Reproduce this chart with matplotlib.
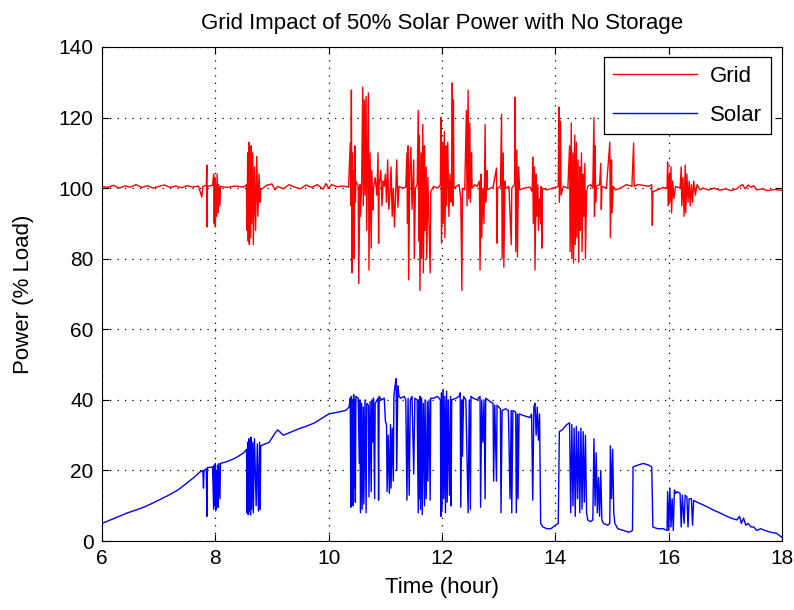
import matplotlib
matplotlib.use("Agg")
from matplotlib import pyplot as plt

plt.rcParams["font.family"] = ["Liberation Sans", "DejaVu Sans"]

# time (hour) and solar power (% load)
solar_t = [
    6.00, 6.15, 6.30, 6.45, 6.60, 6.75, 6.90, 7.05, 7.20, 7.35, 7.50, 7.62, 7.72, 7.78, 7.79, 7.80,
    7.84, 7.85, 7.86, 7.95, 7.97, 7.98, 7.99, 8.00, 8.01, 8.02, 8.03, 8.04, 8.05, 8.06, 8.08, 8.09,
    8.20, 8.35, 8.50, 8.55, 8.56, 8.57, 8.58, 8.59, 8.60, 8.61, 8.62, 8.63, 8.64, 8.66, 8.67, 8.69,
    8.72, 8.74, 8.76, 8.78, 8.79, 8.80, 8.95, 9.05, 9.10, 9.20, 9.35, 9.50, 9.60, 9.75, 9.90, 10.00,
    10.15, 10.30, 10.36,
    10.38, 10.39, 10.40, 10.41, 10.42, 10.43, 10.44, 10.45, 10.46, 10.47, 10.48, 10.52, 10.54, 10.55,
    10.56, 10.58, 10.59, 10.61, 10.62, 10.64, 10.66, 10.67, 10.70, 10.71, 10.73, 10.75, 10.76, 10.78,
    10.79, 10.81, 10.82, 10.87, 10.88, 10.89, 10.93, 10.98, 11.00, 11.02, 11.03, 11.05, 11.07, 11.09,
    11.10, 11.12, 11.14, 11.15, 11.17, 11.19, 11.20, 11.22, 11.24, 11.27, 11.33, 11.36, 11.38, 11.40,
    11.42, 11.44, 11.47, 11.50, 11.52, 11.56, 11.58, 11.59, 11.60, 11.61, 11.62, 11.64, 11.65, 11.67,
    11.69, 11.70, 11.72, 11.74, 11.75, 11.77, 11.79, 11.80, 11.86, 11.92, 11.97, 11.98, 11.99, 12.00,
    12.02, 12.03, 12.05, 12.06, 12.08, 12.09, 12.11, 12.13, 12.15, 12.16, 12.17, 12.25, 12.30, 12.32,
    12.33, 12.35, 12.36, 12.38, 12.42, 12.46, 12.48, 12.50, 12.51, 12.55, 12.62, 12.67, 12.68, 12.70,
    12.72, 12.74, 12.76, 12.77, 12.85, 12.90, 12.91, 12.93, 12.96, 12.97, 13.03, 13.04, 13.06, 13.12,
    13.17, 13.20, 13.22, 13.23, 13.25, 13.30, 13.31, 13.33, 13.34, 13.36, 13.45, 13.55, 13.58, 13.60,
    13.62, 13.64, 13.66, 13.68, 13.70, 13.72, 13.74, 13.78, 13.85, 13.92, 14.00, 14.05, 14.07, 14.12,
    14.20, 14.25, 14.27, 14.29, 14.31, 14.33, 14.35, 14.37, 14.39, 14.41, 14.43, 14.45, 14.47, 14.49,
    14.51, 14.53, 14.55, 14.57, 14.62, 14.66, 14.68, 14.70, 14.72, 14.74, 14.76, 14.78, 14.80, 14.82,
    14.85, 14.92, 14.96, 14.97, 14.99, 15.01, 15.03, 15.05, 15.10, 15.20, 15.30, 15.36, 15.37, 15.45,
    15.55, 15.65, 15.70, 15.72, 15.80, 15.90, 15.97, 15.98, 16.00, 16.02, 16.04, 16.06, 16.08, 16.10,
    16.12, 16.15, 16.20, 16.22, 16.24, 16.27, 16.29, 16.32, 16.34, 16.36, 16.40, 16.42, 16.44, 16.50,
    16.60, 16.70, 16.80, 16.90, 17.00, 17.10, 17.20, 17.25, 17.28, 17.32, 17.36, 17.40, 17.45, 17.50,
    17.55, 17.62, 17.70, 17.80, 17.90, 18.00,
]
solar = [
    5.0, 6.0, 7.0, 8.0, 8.8, 9.7, 10.8, 12.0, 13.2, 14.6, 16.5, 18.0, 19.5, 20.0, 15.0, 20.0,
    20.5, 7.0, 20.8, 21.0, 9.0, 21.5, 10.0, 22.0, 8.8, 20.0, 10.5, 21.5, 9.5, 22.0, 12.0, 22.0,
    22.5, 23.5, 25.0, 26.0, 8.0, 28.0, 7.5, 29.0, 8.5, 27.0, 7.4, 29.5, 9.0, 28.0, 8.0, 29.0,
    10.0, 27.5, 8.5, 28.0, 9.0, 27.0, 28.0, 30.5, 31.5, 30.0, 31.0, 32.0, 32.5, 33.5, 35.0, 36.0,
    36.5, 37.0, 38.0,
    40.5, 9.6, 41.0, 12.0, 40.0, 10.0, 41.5, 15.0, 40.0, 11.0, 41.0, 40.5, 22.0, 40.0,
    8.0, 39.0, 9.0, 38.0, 10.5, 40.0, 8.0, 39.0, 38.5, 12.5, 39.5, 14.0, 40.0, 28.0,
    40.5, 12.0, 39.0, 40.5, 11.6, 41.0, 40.0, 40.5, 34.0, 33.0, 14.0, 30.0, 13.5, 33.0,
    15.0, 32.0, 17.0, 41.0, 44.0, 46.0, 20.0, 44.0, 41.0, 40.5, 41.0, 40.0, 11.6, 40.5,
    13.0, 40.0, 41.0, 19.0, 40.5, 40.0, 8.0, 40.0, 12.0, 41.0, 9.0, 40.5, 7.5, 39.0,
    10.0, 40.0, 12.0, 39.5, 17.0, 40.0, 11.6, 40.5, 40.5, 41.0, 40.0, 7.0, 42.0, 9.0,
    43.0, 12.0, 41.0, 8.0, 42.5, 11.0, 40.0, 13.0, 41.0, 10.0, 40.0, 40.5, 41.0, 42.0,
    9.6, 40.0, 24.0, 41.0, 40.0, 8.0, 40.0, 9.0, 41.0, 40.5, 40.0, 41.0, 9.6, 40.0,
    28.0, 40.0, 12.0, 40.5, 39.5, 39.0, 17.0, 38.5, 17.0, 38.5, 37.5, 8.0, 37.0, 37.5,
    37.0, 12.0, 37.0, 8.0, 37.0, 36.5, 8.0, 36.0, 12.0, 36.0, 35.5, 35.0, 36.0, 11.6,
    38.0, 39.0, 30.0, 38.0, 28.6, 36.0, 5.0, 4.0, 3.5, 3.5, 4.5, 5.0, 31.0, 31.5,
    33.0, 33.5, 8.0, 33.0, 10.0, 32.0, 7.0, 32.5, 12.0, 31.0, 8.0, 32.0, 9.0, 31.0,
    11.0, 30.0, 8.0, 6.0, 5.5, 6.0, 29.0, 10.0, 25.0, 8.0, 18.0, 7.0, 20.0, 6.0,
    5.0, 4.5, 5.0, 27.0, 12.0, 26.0, 8.0, 5.0, 3.5, 3.0, 2.5, 3.0, 21.0, 21.5,
    22.0, 21.5, 21.0, 4.0, 3.5, 3.5, 3.0, 14.0, 3.0, 15.0, 4.0, 12.0, 3.0, 14.5,
    13.5, 14.0, 13.5, 4.0, 13.0, 5.0, 13.0, 12.5, 4.0, 12.0, 12.0, 4.5, 11.5, 11.0,
    10.3, 9.5, 8.7, 8.0, 7.2, 6.5, 6.0, 7.0, 5.0, 6.5, 4.5, 5.0, 4.0, 4.0,
    3.0, 3.5, 3.0, 2.5, 2.2, 1.0,
]

# time (hour) and grid power (% load)
grid_t = [
    6.00, 6.10, 6.20, 6.30, 6.40, 6.50, 6.60, 6.70, 6.80, 6.90, 7.00, 7.10, 7.20, 7.30, 7.40, 7.50,
    7.60, 7.70, 7.76, 7.78, 7.84, 7.85, 7.855, 7.86, 7.95, 7.97, 7.98, 7.99, 8.00, 8.01, 8.02, 8.03,
    8.05, 8.06, 8.08, 8.09, 8.20, 8.35, 8.50, 8.55, 8.56, 8.57, 8.58, 8.59, 8.60, 8.61, 8.62, 8.63,
    8.64, 8.66, 8.67, 8.69, 8.71, 8.73, 8.75, 8.77, 8.79, 8.80, 8.90, 9.00, 9.05, 9.10, 9.20, 9.30,
    9.40, 9.50, 9.60, 9.70, 9.80, 9.90, 9.95, 10.00, 10.05, 10.15, 10.25, 10.35,
    10.38, 10.39, 10.40, 10.41, 10.42, 10.43, 10.44, 10.45, 10.46, 10.47, 10.48, 10.52, 10.53, 10.55,
    10.56, 10.58, 10.60, 10.61, 10.63, 10.64, 10.66, 10.67, 10.70, 10.71, 10.73, 10.75, 10.76, 10.78,
    10.79, 10.82, 10.85, 10.87, 10.88, 10.89, 10.92, 10.94, 10.96, 10.98, 11.00, 11.02, 11.04, 11.06,
    11.08, 11.10, 11.12, 11.14, 11.16, 11.18, 11.20, 11.22, 11.24, 11.30, 11.36, 11.38, 11.39, 11.40,
    11.41, 11.43, 11.45, 11.47, 11.50, 11.51, 11.53, 11.56, 11.58, 11.59, 11.60, 11.61, 11.63, 11.64,
    11.66, 11.67, 11.69, 11.70, 11.72, 11.73, 11.75, 11.77, 11.79, 11.80, 11.85, 11.92, 11.97, 11.98,
    11.99, 12.01, 12.02, 12.04, 12.05, 12.07, 12.08, 12.10, 12.12, 12.14, 12.16, 12.17, 12.18, 12.19,
    12.20, 12.21, 12.25, 12.30, 12.33, 12.35, 12.36, 12.40, 12.43, 12.44, 12.46, 12.47, 12.49, 12.50,
    12.52, 12.53, 12.58, 12.62, 12.66, 12.67, 12.69, 12.70, 12.72, 12.74, 12.76, 12.77, 12.79, 12.80,
    12.85, 12.90, 12.96, 12.97, 12.98, 13.03, 13.05, 13.06, 13.08, 13.09, 13.11, 13.12, 13.18, 13.22,
    13.23, 13.28, 13.29, 13.30, 13.32, 13.33, 13.35, 13.37, 13.45, 13.55, 13.59, 13.60, 13.61, 13.63,
    13.64, 13.66, 13.67, 13.69, 13.70, 13.72, 13.74, 13.75, 13.76, 13.77, 13.85, 13.95, 14.05, 14.06,
    14.07, 14.09, 14.10, 14.14, 14.22, 14.25, 14.26, 14.28, 14.29, 14.31, 14.32, 14.34, 14.35, 14.37,
    14.38, 14.40, 14.41, 14.43, 14.44, 14.46, 14.47, 14.49, 14.50, 14.52, 14.53, 14.55, 14.57, 14.62,
    14.66, 14.68, 14.69, 14.70, 14.71, 14.72, 14.78, 14.80, 14.81, 14.82, 14.90, 14.96, 14.97, 14.99,
    15.00, 15.02, 15.06, 15.15, 15.25, 15.35, 15.38, 15.39, 15.45, 15.55, 15.65, 15.70, 15.71, 15.72,
    15.80, 15.90, 15.97, 15.98, 15.99, 16.01, 16.02, 16.04, 16.05, 16.07, 16.09, 16.12, 16.20, 16.22,
    16.23, 16.25, 16.27, 16.29, 16.30, 16.32, 16.34, 16.36, 16.38, 16.40, 16.42, 16.44, 16.47, 16.50,
    16.55, 16.60, 16.70, 16.80, 16.90, 17.00, 17.10, 17.20, 17.25, 17.30, 17.35, 17.40, 17.45, 17.50,
    17.55, 17.65, 17.75, 17.85, 18.00,
]
grid = [
    100.5, 100.2, 100.8, 100.0, 100.6, 100.3, 101.0, 100.2, 100.7, 100.0, 100.5, 100.9, 100.2, 100.6, 100.1, 100.7,
    100.3, 100.6, 97.5, 100.5, 100.8, 106.5, 89.0, 100.5, 100.8, 104.0, 90.0, 103.0, 89.0, 101.0, 92.0, 104.0,
    93.0, 101.0, 95.0, 100.5, 100.2, 100.6, 100.3, 101.0, 88.0, 110.0, 85.0, 113.0, 84.0, 108.0, 86.0, 112.0,
    90.0, 110.0, 84.0, 106.0, 88.0, 109.0, 92.0, 104.0, 96.0, 99.5, 100.8, 101.2, 99.5, 100.5, 99.8, 101.0,
    100.3, 99.8, 100.9, 100.2, 101.0, 99.7, 101.3, 100.0, 101.0, 100.4, 100.6, 100.3,
    112.8, 95.0, 127.8, 76.0, 110.0, 90.0, 105.0, 80.0, 112.0, 96.0, 102.0, 100.5, 73.0, 101.0,
    92.0, 100.0, 128.6, 95.0, 125.0, 98.0, 126.0, 88.0, 127.0, 76.8, 110.0, 83.0, 105.0, 93.8,
    100.0, 103.0, 98.0, 110.0, 84.4, 101.0, 105.0, 95.0, 102.0, 100.5, 104.0, 96.0, 108.0, 94.0,
    98.0, 106.0, 92.0, 100.0, 89.0, 98.0, 108.0, 94.6, 100.5, 100.0, 100.3, 110.0, 90.0, 112.0,
    74.0, 105.0, 111.6, 94.0, 108.0, 80.0, 100.0, 101.0, 122.0, 85.0, 115.0, 71.0, 110.0, 80.0,
    118.0, 76.0, 112.0, 88.0, 106.0, 80.0, 103.0, 90.0, 76.0, 99.0, 100.5, 100.0, 101.0, 120.0,
    84.4, 113.0, 90.0, 116.0, 86.0, 112.0, 95.0, 113.0, 92.0, 104.0, 96.0, 100.5, 129.8, 95.0,
    125.0, 100.0, 100.5, 101.0, 97.0, 71.0, 100.0, 99.5, 122.0, 95.0, 127.8, 97.0, 118.4, 96.0,
    110.0, 100.0, 101.0, 100.5, 102.0, 76.8, 104.0, 86.0, 100.0, 90.0, 118.0, 96.0, 105.0, 99.5,
    100.0, 100.3, 105.7, 84.4, 100.0, 100.5, 121.0, 80.0, 110.0, 77.6, 102.0, 100.0, 100.5, 84.0,
    100.0, 101.0, 125.8, 82.0, 110.8, 80.5, 106.0, 99.5, 100.0, 100.3, 99.0, 108.8, 90.0, 106.0,
    76.8, 104.0, 92.0, 101.0, 88.0, 97.0, 90.0, 100.5, 83.0, 100.0, 99.5, 100.0, 100.5, 123.0,
    96.0, 119.0, 98.0, 100.5, 100.0, 112.0, 82.0, 118.4, 80.0, 110.0, 78.8, 115.0, 84.0, 113.0,
    86.0, 108.0, 79.0, 106.0, 88.0, 110.0, 82.0, 104.0, 92.0, 107.0, 80.0, 99.0, 100.5, 101.0,
    100.0, 120.0, 92.0, 112.0, 96.0, 100.5, 101.0, 107.0, 94.0, 100.5, 100.0, 113.0, 86.0, 108.0,
    93.0, 100.5, 99.5, 100.0, 101.0, 100.5, 112.8, 100.5, 101.0, 100.8, 100.5, 101.0, 89.5, 99.0,
    99.5, 100.2, 100.0, 107.4, 95.0, 104.0, 96.0, 106.0, 93.0, 102.0, 97.0, 100.5, 100.0, 106.0,
    95.0, 103.0, 92.0, 106.5, 93.0, 104.0, 96.0, 102.0, 95.0, 101.0, 96.0, 102.0, 98.0, 101.0,
    99.5, 100.0, 99.5, 100.0, 99.4, 99.8, 99.3, 99.8, 100.5, 101.0, 99.8, 100.9, 100.2, 100.7,
    99.5, 99.8, 99.3, 99.6, 99.4,
]

x_ticks = [6, 8, 10, 12, 14, 16, 18]
y_ticks = [0, 20, 40, 60, 80, 100, 120, 140]

fig = plt.figure(figsize=(7.94, 6.10), dpi=100)
ax = fig.add_axes([0.1285, 0.113, 0.8565, 0.81])

ax.plot(grid_t, grid, color="#ff0000", linewidth=1.0, label="Grid")
ax.plot(solar_t, solar, color="#0000ff", linewidth=1.0, label="Solar")

ax.set_xlim(6, 18)
ax.set_ylim(0, 140)
ax.set_xticks(x_ticks)
ax.set_yticks(y_ticks)
ax.tick_params(direction="in", length=5, labelsize=15, top=True, right=True, pad=6)
ax.grid(True, color="black", linestyle=(0, (1, 5)), linewidth=0.9)
for s in ax.spines.values():
    s.set_linewidth(0.8)

ax.set_title("Grid Impact of 50% Solar Power with No Storage", fontsize=16, pad=13)
ax.set_xlabel("Time (hour)", fontsize=16, labelpad=6)
ax.set_ylabel("Power (% Load)", fontsize=16, labelpad=18)

leg = ax.legend(loc="upper right", bbox_to_anchor=(0.984, 0.98), fontsize=16,
                fancybox=False, edgecolor="black", framealpha=1, borderaxespad=0,
                handlelength=3.8, labelspacing=0.8, handletextpad=0.6)
leg.get_frame().set_linewidth(0.9)

fig.savefig("out.png", dpi=100)
